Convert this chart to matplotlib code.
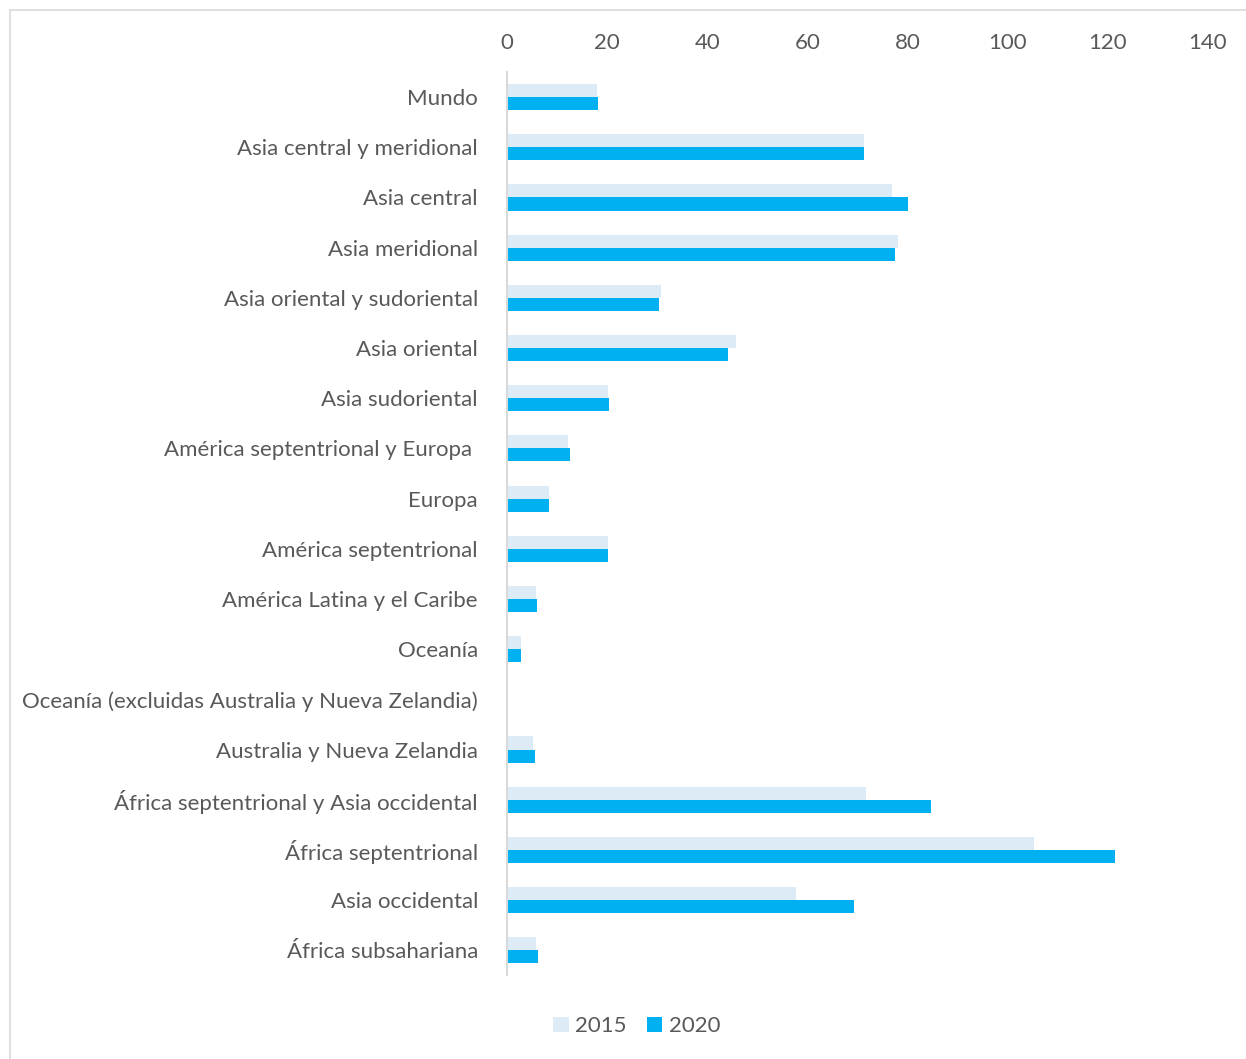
import numpy as np
import matplotlib
matplotlib.use("Agg")
import matplotlib.pyplot as plt
from matplotlib.patches import Rectangle

regions = ["Mundo", "Asia central y meridional", "Asia central", "Asia meridional",
           "Asia oriental y sudoriental", "Asia oriental", "Asia sudoriental",
           "América septentrional y Europa ", "Europa", "América septentrional",
           "América Latina y el Caribe", "Oceanía",
           "Oceanía (excluidas Australia y Nueva Zelandia)", "Australia y Nueva Zelandia",
           "África septentrional y Asia occidental", "África septentrional",
           "Asia occidental", "África subsahariana"]
v2015 = [17.9, 71.3, 76.9, 78.1, 30.8, 45.8, 20.2, 12.2, 8.3, 20.1, 5.7, 2.8, 0.2, 5.2, 71.7, 105.3, 57.7, 5.8]
v2020 = [18.2, 71.2, 80.0, 77.5, 30.4, 44.2, 20.4, 12.5, 8.3, 20.1, 5.9, 2.7, 0.1, 5.5, 84.6, 121.4, 69.2, 6.1]
xticks = [0, 20, 40, 60, 80, 100, 120, 140]

c15, c20, txt = "#DDEBF7", "#00B0F0", "#595959"
plt.rcParams["font.family"] = ["Lato", "DejaVu Sans"]

fig = plt.figure(figsize=(12.46, 10.59), dpi=100)
ax = fig.add_axes([0.407, 0.079, 0.5625, 0.853])
y = np.arange(len(regions))
h = 0.26
ax.barh(y - h/2, v2015, height=h, color=c15, label="2015")
ax.barh(y + h/2, v2020, height=h, color=c20, label="2020")
ax.set_ylim(len(regions) - 0.5, -0.5)
ax.set_xlim(0, 140)
ax.set_xticks(xticks)
ax.xaxis.tick_top()
ax.tick_params(axis="x", length=0, pad=14, labelsize=16, colors=txt)
ax.set_yticks(y)
ax.set_yticklabels(regions)
ax.tick_params(axis="y", length=0, pad=21, labelsize=16, colors=txt)
for s in ["top", "right", "bottom"]:
    ax.spines[s].set_visible(False)
ax.spines["left"].set_color("#D9D9D9")
ax.spines["left"].set_linewidth(1.5)

fig.legend(loc="center", bbox_to_anchor=(0.511, 0.031), ncol=2, frameon=False,
           fontsize=16, labelcolor=txt, handlelength=0.7, handleheight=0.7,
           handletextpad=0.3, columnspacing=0.9)
fig.patches.append(Rectangle((10/1246, -0.05), 1.2, 1.05 - 10/1059, transform=fig.transFigure,
                             fill=False, edgecolor="#D9D9D9", lw=1.2))
fig.savefig("out.png", dpi=100)
